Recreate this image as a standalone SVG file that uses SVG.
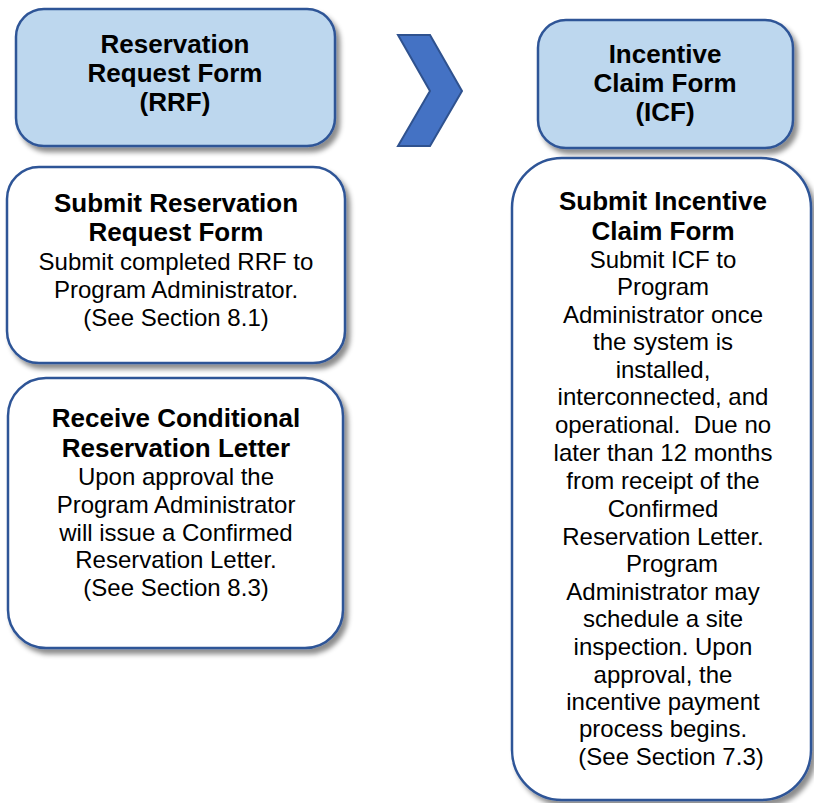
<svg xmlns="http://www.w3.org/2000/svg" width="814" height="803" viewBox="0 0 814 803">
<defs>
<filter id="sh" x="-10%" y="-10%" width="125%" height="125%">
<feDropShadow dx="4" dy="5" stdDeviation="2.5" flood-color="#000" flood-opacity="0.45"/>
</filter>
</defs>
<style>
.hdr{fill:#BDD7EE;stroke:#2F5597;stroke-width:2.5;filter:url(#sh)}
.body{fill:#FFFFFF;stroke:#2F5597;stroke-width:2.5;filter:url(#sh)}
text{font-family:"Liberation Sans",Arial,sans-serif;fill:#000;text-anchor:middle}
.b{font-weight:bold;font-size:26px}
.r{font-size:24px}
</style>
<rect width="814" height="803" fill="#FFFFFF"/>
<g id="connectors">
<polygon points="398,35 430,35 462,91 430,146 398,146 430,91" fill="#4472C4" stroke="#2F528F" stroke-width="2"/>
</g>
<g id="rrf-header">
<rect class="hdr" x="16" y="9" width="319" height="137" rx="28"/>
<text class="b" x="175" y="53">Reservation</text>
<text class="b" x="175" y="82">Request Form</text>
<text class="b" x="175" y="111">(RRF)</text>
</g>
<g id="icf-header">
<rect class="hdr" x="538" y="20" width="255" height="128" rx="28"/>
<text class="b" x="665" y="63">Incentive</text>
<text class="b" x="665" y="92">Claim Form</text>
<text class="b" x="665" y="121">(ICF)</text>
</g>
<g id="submit-rrf">
<rect class="body" x="7" y="167" width="338" height="196" rx="32"/>
<text class="b" x="176" y="212">Submit Reservation</text>
<text class="b" x="176" y="241">Request Form</text>
<text class="r" x="176" y="270">Submit completed RRF to</text>
<text class="r" x="176" y="298">Program Administrator.</text>
<text class="r" x="176" y="326">(See Section 8.1)</text>
</g>
<g id="receive-letter">
<rect class="body" x="8" y="378" width="335" height="270" rx="38"/>
<text class="b" x="176" y="427">Receive Conditional</text>
<text class="b" x="176" y="457">Reservation Letter</text>
<text class="r" x="176" y="485">Upon approval the</text>
<text class="r" x="176" y="513">Program Administrator</text>
<text class="r" x="176" y="541">will issue a Confirmed</text>
<text class="r" x="176" y="568">Reservation Letter.</text>
<text class="r" x="176" y="596">(See Section 8.3)</text>
</g>
<g id="submit-icf">
<rect class="body" x="512" y="158" width="299" height="642" rx="50"/>
<text class="b" x="663" y="210">Submit Incentive</text>
<text class="b" x="663" y="240">Claim Form</text>
<text class="r" x="663" y="268">Submit ICF to</text>
<text class="r" x="663" y="295">Program</text>
<text class="r" x="663" y="323">Administrator once</text>
<text class="r" x="663" y="350">the system is</text>
<text class="r" x="663" y="378">installed,</text>
<text class="r" x="663" y="405">interconnected, and</text>
<text class="r" x="663" y="433">operational.&#160; Due no</text>
<text class="r" x="663" y="461">later than 12 months</text>
<text class="r" x="663" y="489">from receipt of the</text>
<text class="r" x="663" y="517">Confirmed</text>
<text class="r" x="663" y="545">Reservation Letter.</text>
<text class="r" x="672" y="572">Program</text>
<text class="r" x="663" y="600">Administrator may</text>
<text class="r" x="663" y="627">schedule a site</text>
<text class="r" x="663" y="655">inspection. Upon</text>
<text class="r" x="663" y="683">approval, the</text>
<text class="r" x="663" y="710">incentive payment</text>
<text class="r" x="663" y="737">process begins.</text>
<text class="r" x="671" y="765">(See Section 7.3)</text>
</g>
</svg>
